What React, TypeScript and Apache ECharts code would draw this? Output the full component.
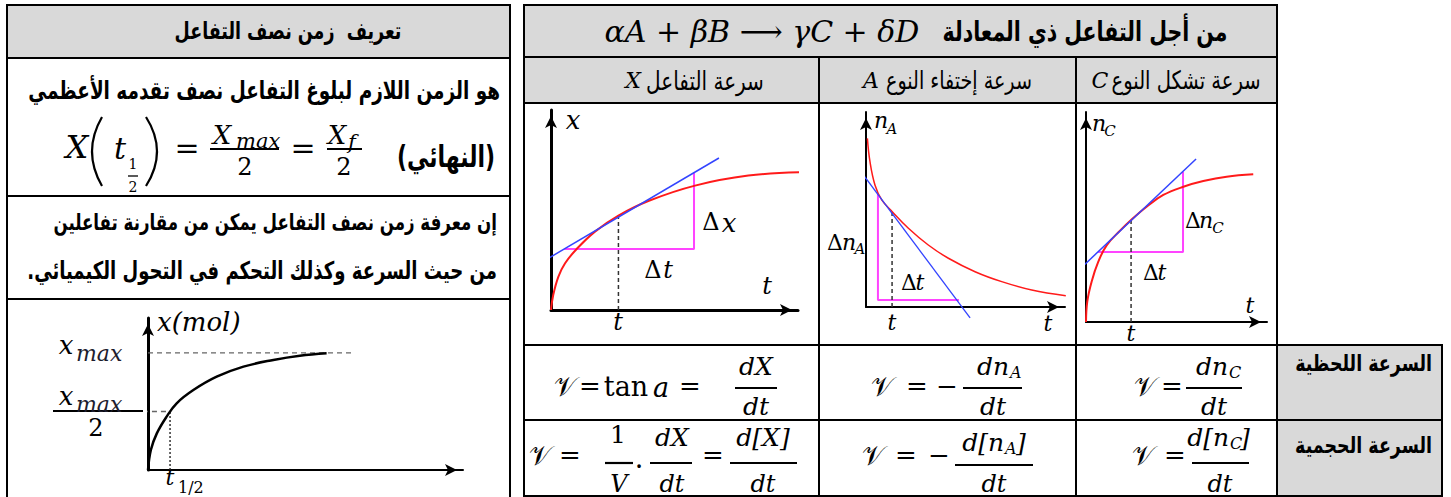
import React, { useEffect, useRef } from "react";
import * as echarts from "echarts";

const W = 1451;
const H = 497;
const AR = "'DejaVu Sans', sans-serif";
const MATH = "'DejaVu Serif', 'DejaVu Sans', serif";

// ---------- texts ----------
const LEFT_TITLE = "تعريف  زمن نصف التفاعل";
const DEF_LINE = "هو الزمن اللازم لبلوغ التفاعل نصف تقدمه الأعظمي";
const FINAL_WORD = "(النهائي)";
const USE_LINES = [
  "إن معرفة زمن نصف التفاعل يمكن من مقارنة تفاعلين",
  "من حيث السرعة وكذلك التحكم في التحول الكيميائي.",
];
const RIGHT_TITLE = "من أجل التفاعل ذي المعادلة";
const EQUATION = "αA + βB ⟶ γC + δD";
const COL_HEADERS = ["سرعة التفاعل", "سرعة إختفاء النوع", "سرعة تشكل النوع"];
const COL_SYMBOLS = ["X", "A", "C"];
const ROW_LABELS = ["السرعة اللحظية", "السرعة الحجمية"];

// ---------- curve data (0..100 units per mini-graph) ----------
const HALF_LIFE_CURVE = [[0, 0], [0.9, 13.2], [2.8, 24.1], [5.9, 35.1], [9.1, 43.9], [14.4, 52.6], [21.8, 61.4], [30.3, 68], [39.8, 72.4], [48.2, 75.2], [56.7, 76.8]];
const HALF_LIFE_XMAX = 77;
const HALF_LIFE_HALF = 38.5;
const HALF_LIFE_T = 7;
const HALF_LIFE_DASH_END = 65;

const X_CURVE = [[0, 0], [0.9, 7.5], [3, 16.7], [5.7, 23.4], [10.4, 30.5], [17.8, 39.2], [27.3, 47.2], [39.4, 54.5], [58.3, 62.2], [79.9, 67.2], [101.5, 68.9]];
const X_TANGENT = [[-3.6, 24], [68, 76]];
const X_TRIANGLE = [[5.4, 30.5], [57.9, 30.5], [57.9, 68.6]];
const X_T = [27.3, 47.2];

const A_CURVE = [[0.7, 86.5], [2, 74.5], [4.5, 62.6], [7.9, 54.9], [13.2, 48.9], [21.3, 40.4], [31.3, 31.8], [41.4, 25], [54.8, 18.1], [68.2, 13], [83.3, 8.7], [100.4, 5.8]];
const A_TANGENT = [[-8, 76.9], [52.3, -5.6]];
const A_TRIANGLE = [[6, 57.9], [6, 3.6], [46.7, 3.6]];
const A_T = [13.1, 48.7];

const C_CURVE = [[0, 0], [0.7, 9.7], [3.1, 19.2], [6.8, 28.7], [11.4, 36.5], [18.8, 43.5], [24.9, 48.6], [33.5, 54.9], [42.7, 60.5], [53.8, 64.4], [64.8, 67.1], [77.7, 69.2], [92.4, 70.3]];
const C_TANGENT = [[-2.8, 25.7], [60.8, 77.6]];
const C_TRIANGLE = [[6.6, 33.3], [53.6, 33.3], [53.6, 71.4]];
const C_T = [24.9, 48.6];

// ---------- helpers ----------
let measureCtx: CanvasRenderingContext2D | null = null;
function fit(text: string, family: string, weight: string, italic: boolean, width: number, maxSize: number) {
  if (!measureCtx) measureCtx = document.createElement("canvas").getContext("2d");
  if (!measureCtx) return maxSize;
  measureCtx.font = `${italic ? "italic" : "normal"} normal ${weight} 100px ${family}`;
  const w = measureCtx.measureText(text).width || 1;
  return Math.min(maxSize, (100 * width) / w);
}

type TOpt = { size: number; family?: string; weight?: string; italic?: boolean; align?: string; valign?: string; fill?: string; sy?: number };
function txt(x: number, y: number, text: string, o: TOpt) {
  return {
    type: "text",
    x,
    y,
    scaleY: o.sy ?? 1,
    z: 10,
    silent: true,
    style: {
      text,
      fontSize: o.size,
      fontFamily: o.family ?? MATH,
      fontWeight: o.weight ?? "normal",
      fontStyle: o.italic ? "italic" : "normal",
      fill: o.fill ?? "#000",
      align: o.align ?? "center",
      verticalAlign: o.valign ?? "middle",
    },
  };
}
function fitTxt(x: number, y: number, text: string, width: number, maxSize: number, o: Partial<TOpt> = {}) {
  const family = o.family ?? AR;
  const weight = o.weight ?? "bold";
  const size = fit(text, family, weight, !!o.italic, width, maxSize);
  return txt(x, y, text, { ...o, family, weight, size } as TOpt);
}
function ln(x1: number, y1: number, x2: number, y2: number, w = 2, color = "#000") {
  return { type: "line", z: 8, silent: true, shape: { x1, y1, x2, y2 }, style: { stroke: color, lineWidth: w } };
}
function rect(x: number, y: number, w: number, h: number, fill: string) {
  return { type: "rect", z: 0, silent: true, shape: { x, y, width: w, height: h }, style: { fill } };
}
function paren(xEnd: number, xMid: number, y1: number, y2: number) {
  return {
    type: "bezierCurve",
    z: 8,
    silent: true,
    shape: { x1: xEnd, y1, x2: xEnd, y2, cpx1: 2 * xMid - xEnd, cpy1: (y1 + y2) / 2 },
    style: { stroke: "#000", lineWidth: 2.2, fill: null },
  };
}
const it = (x: number, y: number, t: string, size: number, align = "center") => txt(x, y, t, { size, italic: true, align });
const up = (x: number, y: number, t: string, size: number, align = "center") => txt(x, y, t, { size, align });

const V = "𝒱";
const SY = 1.35; // taller Arabic glyphs, like the reference's naskh face

// ---------- grids ----------
const GRIDS = [
  { left: 148, top: 318, width: 315, height: 152, xw: 2, yw: 3 },
  { left: 551, top: 110, width: 247, height: 200, xw: 3, yw: 3 },
  { left: 866, top: 112, width: 199, height: 195, xw: 2, yw: 2 },
  { left: 1086, top: 112, width: 181, height: 210, xw: 2, yw: 2 },
];

function axis(i: number, w: number) {
  return {
    gridIndex: i,
    type: "value",
    min: 0,
    max: 100,
    axisLine: { show: true, symbol: ["none", "arrow"], symbolSize: [9, 12], symbolOffset: [0, -6], lineStyle: { color: "#000", width: w } },
    axisTick: { show: false },
    axisLabel: { show: false },
    splitLine: { show: false },
  };
}

function ser(gi: number, data: number[][], color: string, width: number, opt: { smooth?: number; type?: any; z?: number } = {}) {
  return {
    type: "line",
    xAxisIndex: gi,
    yAxisIndex: gi,
    data,
    symbol: "none",
    showSymbol: false,
    clip: false,
    silent: true,
    smooth: opt.smooth ?? false,
    lineStyle: { color, width, type: opt.type ?? "solid" },
    z: opt.z ?? 3,
  };
}

function buildOption() {
  const RED = "#ff1a1a";
  const BLUE = "#3344ff";
  const MAG = "#ff44ff";
  const DASH = "#333";

  const series = [
    // half-life graph
    ser(0, HALF_LIFE_CURVE, "#000", 2.5, { smooth: 0.4, z: 5 }),
    ser(0, [[0, HALF_LIFE_XMAX], [HALF_LIFE_DASH_END, HALF_LIFE_XMAX]], "#666", 1.3, { type: [5, 4] }),
    ser(0, [[-1.6, HALF_LIFE_HALF], [HALF_LIFE_T, HALF_LIFE_HALF]], "#666", 1.3, { type: [5, 4] }),
    ser(0, [[HALF_LIFE_T, 0], [HALF_LIFE_T, HALF_LIFE_HALF]], "#333", 1.5, { type: [2, 2] }),
    // X graph
    ser(1, X_CURVE, RED, 2, { smooth: 0.4, z: 4 }),
    ser(1, X_TANGENT, BLUE, 1.5, { z: 5 }),
    ser(1, X_TRIANGLE, MAG, 2),
    ser(1, [[X_T[0], 0], [X_T[0], X_T[1]]], DASH, 1.5, { type: [4, 3] }),
    // A graph
    ser(2, A_CURVE, RED, 1.5, { smooth: 0.4, z: 4 }),
    ser(2, A_TANGENT, BLUE, 1.3, { z: 5 }),
    ser(2, A_TRIANGLE, MAG, 2),
    ser(2, [[A_T[0], 0], [A_T[0], A_T[1]]], DASH, 1.5, { type: [4, 3] }),
    // C graph
    ser(3, C_CURVE, RED, 2, { smooth: 0.4, z: 4 }),
    ser(3, C_TANGENT, BLUE, 1.5, { z: 5 }),
    ser(3, C_TRIANGLE, MAG, 2),
    ser(3, [[C_T[0], 0], [C_T[0], C_T[1]]], DASH, 1.5, { type: [4, 3] }),
  ];

  const g: any[] = [];
  const GRAY = "#d9d9d9";
  // backgrounds
  g.push(rect(7, 5, 503, 53, GRAY));
  g.push(rect(524, 5, 753, 98, GRAY));
  g.push(rect(1277, 345, 165, 151, GRAY));

  // left table lines
  g.push(ln(7, 4, 7, 497), ln(510, 4, 510, 497));
  [5, 58, 196, 299].forEach((y) => g.push(ln(6, y, 511, y)));
  // right table lines
  [5, 57, 103].forEach((y) => g.push(ln(523, y, 1278, y)));
  [345, 420, 496].forEach((y) => g.push(ln(523, y, 1443, y)));
  g.push(ln(524, 4, 524, 497), ln(1277, 4, 1277, 497), ln(819, 57, 819, 497), ln(1076, 57, 1076, 497), ln(1442, 345, 1442, 497));

  // left texts
  g.push(fitTxt(288, 31, LEFT_TITLE, 227, 22, { sy: SY }));
  g.push(fitTxt(500, 90, DEF_LINE, 472, 24, { align: "right", sy: SY }));
  g.push(fitTxt(446, 157, FINAL_WORD, 112, 22, { sy: SY }));
  g.push(fitTxt(497, 223, USE_LINES[0], 444, 24, { align: "right", sy: SY }));
  g.push(fitTxt(497, 270, USE_LINES[1] + "\u200F", 470, 24, { align: "right", sy: SY }));

  // X(t1/2) = Xmax/2 = Xf/2
  g.push(it(77, 147, "X", 32));
  g.push(paren(102, 92, 117, 186), paren(146, 157, 117, 186));
  g.push(it(120, 148, "t", 30));
  g.push(up(133, 164, "1", 14), ln(128, 176, 138, 176, 1.3), up(133, 187, "2", 14));
  g.push(up(187, 147, "=", 30));
  g.push(it(222, 135, "X", 26), it(236, 141, "max", 21, "left"), ln(210, 149, 279, 149, 2), up(245, 167, "2", 24));
  g.push(up(303, 147, "=", 30));
  g.push(it(337, 135, "X", 26), it(348, 142, "f", 21, "left"), ln(327, 149, 362, 149, 2), up(344, 167, "2", 24));

  // half-life graph labels
  g.push(fitTxt(157, 322, "x(mol)", 121, 26, { family: MATH, italic: true, weight: "normal", align: "left" }));
  g.push(it(66, 345, "x", 26), fitTxt(76, 353, "max", 64, 22, { family: MATH, italic: true, weight: "normal", align: "left", fill: "#1d1d2e" }));
  g.push(it(66, 396, "x", 26), fitTxt(76, 404, "max", 64, 22, { family: MATH, italic: true, weight: "normal", align: "left", fill: "#1d1d2e" }));
  g.push(ln(53, 411, 143, 411, 2), up(96, 428, "2", 24));
  g.push(it(170, 477, "t", 22), up(178, 487, "1/2", 16, "left"));

  // right header
  g.push(fitTxt(1085, 31, RIGHT_TITLE, 285, 22, { sy: SY }));
  g.push(fitTxt(762, 31, EQUATION, 340, 30, { family: MATH, italic: true, weight: "normal" }));
  const hdrX = [705, 959, 1186];
  const hdrW = [126, 146, 149];
  const symX = [633, 871, 1100];
  COL_HEADERS.forEach((h, i) => {
    g.push(fitTxt(hdrX[i], 80, h, hdrW[i], 20, { weight: "normal", sy: 1.3 }));
    g.push(it(symX[i], 80, COL_SYMBOLS[i], 22));
  });
  g.push(fitTxt(1432, 363, ROW_LABELS[0], 137, 20, { align: "right", sy: 1.3 }));
  g.push(fitTxt(1432, 445, ROW_LABELS[1], 137, 20, { align: "right", sy: 1.3 }));

  // graph labels
  const GL = 24;
  g.push(it(573, 120, "x", 26));
  g.push(up(711, 222, "Δ", GL), it(729, 223, "x", 26));
  g.push(up(653, 270, "Δ", GL), it(668, 270, "t", GL));
  g.push(it(767, 286, "t", GL), it(618, 322, "t", GL));

  g.push(it(881, 120, "n", 22), it(892, 129, "A", 15));
  g.push(up(835, 242, "Δ", 22), it(849, 242, "n", 22), it(860, 249, "A", 15));
  g.push(up(909, 282, "Δ", 22), it(920, 282, "t", 22));
  g.push(it(892, 322, "t", 22), it(1048, 323, "t", 22));

  g.push(it(1099, 123, "n", 22), it(1110, 131, "C", 15));
  g.push(up(1193, 220, "Δ", 22), it(1206, 220, "n", 22), it(1218, 228, "C", 15));
  g.push(up(1151, 272, "Δ", 22), it(1162, 272, "t", 22));
  g.push(it(1250, 305, "t", 22), it(1131, 333, "t", 22));

  // formulas
  const FS = 27; // main line
  const FF = 25; // fraction parts
  const EQ = 26;
  const R4 = 386, N4 = 366, B4 = 388, D4 = 406;
  const R5 = 455, N5 = 437, D5 = 484;

  // row 4
  g.push(up(565, R4, V, FS), up(590, R4, "=", EQ), up(626, R4, "tan", FS), it(661, R4 + 1, "a", FS), up(690, R4, "=", EQ));
  g.push(it(756, N4, "dX", FF), ln(735, B4, 777, B4, 2.2), it(756, D4, "dt", FF));

  g.push(up(882, R4, V, FS), up(917, R4, "=", EQ), up(947, R4, "−", EQ));
  g.push(it(1009, N4, "dn", FF, "right"), it(1010, N4 + 6, "A", 16, "left"), ln(963, B4, 1022, B4, 2.2), it(993, D4, "dt", FF));

  g.push(up(1145, R4, V, FS), up(1172, R4, "=", EQ));
  g.push(it(1228, N4, "dn", FF, "right"), it(1229, N4 + 6, "C", 16, "left"), ln(1186, B4, 1242, B4, 2.2), it(1214, D4, "dt", FF));

  // row 5
  g.push(up(540, R5, V, FS), up(570, R5, "=", EQ));
  g.push(up(618, N5 - 3, "1", FF), ln(605, 463, 633, 463, 2.2), it(619, D5, "V", 24));
  g.push(up(639, R5 + 3, ".", FS));
  g.push(it(672, N5, "dX", FF), ln(650, 463, 692, 463, 2.2), it(672, D5, "dt", 24));
  g.push(up(713, R5, "=", EQ));
  g.push(it(763, N5, "d[X]", FF), ln(730, 463, 797, 463, 2.2), it(763, D5, "dt", 24));

  g.push(up(873, R5, V, FS), up(906, R5, "=", EQ), up(939, R5, "−", EQ));
  g.push(it(1004, N5 + 5, "d[n", FF, "right"), it(1005, N5 + 11, "A", 16, "left"), it(1016, N5 + 5, "]", FF, "left"), ln(955, 465, 1033, 465, 2.2), it(994, D5, "dt", 24));

  g.push(up(1143, R5, V, FS), up(1175, R5, "=", EQ));
  g.push(it(1229, N5, "d[n", FF, "right"), it(1230, N5 + 6, "C", 16, "left"), it(1240, N5, "]", FF, "left"), ln(1192, 463, 1249, 463, 2.2), it(1220, D5, "dt", 24));

  return {
    animation: false,
    backgroundColor: "#fff",
    grid: GRIDS.map((gr) => ({ left: gr.left, top: gr.top, width: gr.width, height: gr.height, containLabel: false })),
    xAxis: GRIDS.map((gr, i) => axis(i, gr.xw)),
    yAxis: GRIDS.map((gr, i) => axis(i, gr.yw)),
    series,
    graphic: { elements: g },
  };
}

export default function App() {
  const ref = useRef<HTMLDivElement>(null);
  useEffect(() => {
    if (!ref.current) return;
    const chart = echarts.init(ref.current, null, { renderer: "svg" });
    chart.setOption(buildOption() as any);
    return () => chart.dispose();
  }, []);
  return <div ref={ref} style={{ position: "fixed", left: 0, top: 0, width: W, height: H, background: "#fff" }} />;
}
